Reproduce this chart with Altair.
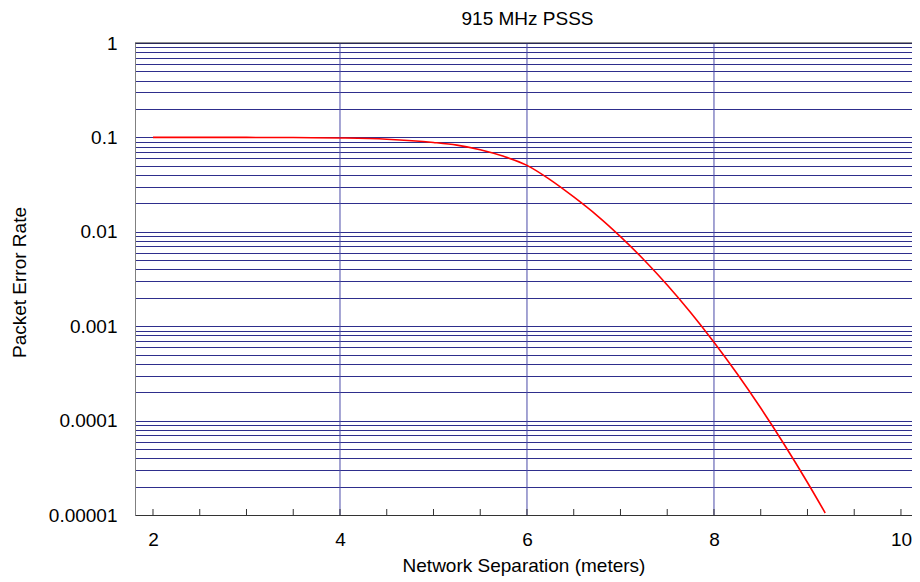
import altair as alt
import pandas as pd

# Curve data
sep = [2.0, 2.5, 3.0, 3.5, 4.0, 4.5, 5.0, 5.25, 5.5, 5.75, 6.0, 6.25, 6.5,
       6.75, 7.0, 7.25, 7.5, 7.75, 8.0, 8.25, 8.5, 8.75, 9.0, 9.19]
per = [0.1, 0.1, 0.1, 0.0996, 0.0986, 0.0957, 0.0884, 0.0828, 0.0740,
       0.0630, 0.0505, 0.0355, 0.0234, 0.01486, 0.00889, 0.00506, 0.00273,
       0.001396, 0.000676, 0.000311, 0.0001358, 0.0000562, 0.0000221,
       0.0000105]

x_labels = [2, 4, 6, 8, 10]
x_grid = [4, 6, 8]
x_minor = [2, 2.5, 3, 3.5, 4, 4.5, 5, 5.5, 6, 6.5, 7, 7.5, 8, 8.5, 9, 9.5, 10]
decades = [1e-5, 1e-4, 1e-3, 1e-2, 1e-1]
y_grid = [round(m * d, 8) for d in decades for m in range(1, 10)] + [1.0]

FONT = "Liberation Sans"
W, H = 777, 472
xscale = alt.Scale(domain=[1.8075, 10.118], nice=False, zero=False)
yscale = alt.Scale(type="log", domain=[1e-5, 1], nice=False)

curve = pd.DataFrame({"x": sep, "y": per})

line = alt.Chart(curve).mark_line(color="#ff0000", strokeWidth=1.6, clip=True,
                                  interpolate="monotone").encode(
    x=alt.X("x:Q", scale=xscale,
            axis=alt.Axis(values=x_labels, format="d", grid=False, ticks=False,
                          tickSize=0, labelPadding=30, labelBaseline="alphabetic",
                          labelFontSize=19, labelFont=FONT, labelColor="#000",
                          title="Network Separation (meters)", titleFont=FONT,
                          titleFontSize=19, titleFontWeight="normal",
                          titleColor="#000", titleY=56,
                          titleBaseline="alphabetic",
                          domainColor="#333333", domainWidth=1,
                          labelFlush=False)),
    y=alt.Y("y:Q", scale=yscale,
            axis=alt.Axis(values=y_grid,
                          labelExpr="abs(log(datum.value)/LN10 - round(log(datum.value)/LN10)) < 1e-6 ? format(datum.value, '.5~f') : ''",
                          grid=True, gridColor="#2e2e8c", gridWidth=1,
                          ticks=False, tickSize=0, labelPadding=18,
                          labelFontSize=19, labelFont=FONT, labelColor="#000",
                          labelBaseline="middle", labelFlush=False,
                          labelOverlap=False,
                          title="Packet Error Rate", titleFont=FONT,
                          titleFontSize=19, titleFontWeight="normal",
                          titleColor="#000", titleX=-116, titleY=239,
                          titleAngle=270, titleAlign="center",
                          titleBaseline="middle",
                          domainColor="#808080", domainWidth=1)),
)

vgrid = alt.Chart(pd.DataFrame({"x": x_grid})).mark_rule(
    color="#4a4aa8", strokeWidth=1).encode(x=alt.X("x:Q", scale=xscale))

top = alt.Chart(pd.DataFrame({"y": [1.0]})).mark_rule(
    color="#222222", strokeWidth=1).encode(y=alt.Y("y:Q", scale=yscale))

ticks = alt.Chart(pd.DataFrame({"x": x_minor})).mark_rule(
    color="#333333", strokeWidth=1).encode(
    x=alt.X("x:Q", scale=xscale), y=alt.value(H), y2=alt.value(H - 6))

chart = alt.layer(vgrid, top, ticks, line).properties(
    width=W, height=H,
    title=alt.TitleParams("915 MHz PSSS", font=FONT, fontSize=19,
                          fontWeight="normal", color="#000", anchor="middle",
                          offset=5, dx=4),
    autosize=alt.AutoSizeParams(type="none"),
    padding={"left": 127, "top": 35, "right": 0, "bottom": 62},
).configure_view(stroke=None).configure(background="white")

chart.save("out.html", embed_options={"renderer": "svg", "actions": False})
